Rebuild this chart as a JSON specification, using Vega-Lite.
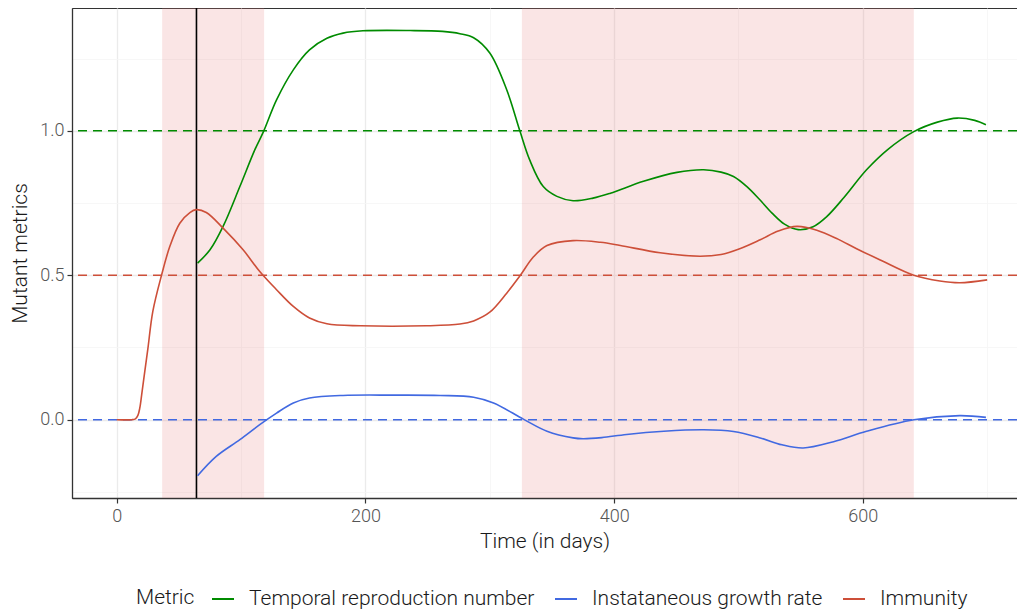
{
  "$schema": "https://vega.github.io/schema/vega-lite/v6.json",
  "width": 945,
  "height": 490,
  "autosize": {"type": "none"},
  "padding": {"left": 72, "top": 8, "right": 0, "bottom": 113},
  "config": {
    "font": "Roboto",
    "view": {"stroke": "#333333", "strokeWidth": 1},
    "axis": {
      "labelFont": "Roboto", "labelFontWeight": 300, "labelFontSize": 18, "labelColor": "#555555",
      "titleFont": "Roboto", "titleFontWeight": 300, "titleFontSize": 21, "titleColor": "#1a1a1a",
      "domainColor": "#333333", "domainWidth": 1.3, "tickSize": 5, "tickWidth": 1.2, "labelPadding": 3
    },
    "legend": {
      "orient": "none", "legendX": 64, "legendY": 579, "direction": "horizontal", "titleOrient": "left",
      "titleFont": "Roboto", "titleFontWeight": 300, "titleFontSize": 21, "titleColor": "#1a1a1a",
      "labelFont": "Roboto", "labelFontWeight": 300, "labelFontSize": 21, "labelColor": "#1a1a1a",
      "labelLimit": 0,
      "symbolType": "stroke", "symbolStrokeWidth": 2, "symbolSize": 484, "labelOffset": 14,
      "columnPadding": 16, "titlePadding": 16, "padding": 0, "symbolDash": []
    }
  },
  "datasets": {
    "shades": [{"day": 36.5, "day_end": 118.5}, {"day": 325.8, "day_end": 641}],
    "refs": [
      {"metric": "Temporal reproduction number", "value": 1.0},
      {"metric": "Instataneous growth rate", "value": 0.0},
      {"metric": "Immunity", "value": 0.5}
    ],
    "events": [{"day": 64.1}],
    "series": [
      {"metric": "Temporal reproduction number", "day": 65, "value": 0.542},
      {"metric": "Temporal reproduction number", "day": 75, "value": 0.588},
      {"metric": "Temporal reproduction number", "day": 85.5, "value": 0.669},
      {"metric": "Temporal reproduction number", "day": 99, "value": 0.807},
      {"metric": "Temporal reproduction number", "day": 111, "value": 0.934},
      {"metric": "Temporal reproduction number", "day": 118, "value": 0.997},
      {"metric": "Temporal reproduction number", "day": 128.5, "value": 1.107},
      {"metric": "Temporal reproduction number", "day": 142, "value": 1.211},
      {"metric": "Temporal reproduction number", "day": 155, "value": 1.28},
      {"metric": "Temporal reproduction number", "day": 169, "value": 1.32},
      {"metric": "Temporal reproduction number", "day": 182, "value": 1.338},
      {"metric": "Temporal reproduction number", "day": 198, "value": 1.346},
      {"metric": "Temporal reproduction number", "day": 236, "value": 1.347},
      {"metric": "Temporal reproduction number", "day": 262, "value": 1.344},
      {"metric": "Temporal reproduction number", "day": 276, "value": 1.336},
      {"metric": "Temporal reproduction number", "day": 287, "value": 1.322},
      {"metric": "Temporal reproduction number", "day": 300, "value": 1.269},
      {"metric": "Temporal reproduction number", "day": 313.6, "value": 1.142},
      {"metric": "Temporal reproduction number", "day": 324.3, "value": 0.998},
      {"metric": "Temporal reproduction number", "day": 332, "value": 0.9},
      {"metric": "Temporal reproduction number", "day": 343, "value": 0.807},
      {"metric": "Temporal reproduction number", "day": 354, "value": 0.773},
      {"metric": "Temporal reproduction number", "day": 367, "value": 0.758},
      {"metric": "Temporal reproduction number", "day": 383, "value": 0.767},
      {"metric": "Temporal reproduction number", "day": 397, "value": 0.784},
      {"metric": "Temporal reproduction number", "day": 423.6, "value": 0.825},
      {"metric": "Temporal reproduction number", "day": 450.5, "value": 0.856},
      {"metric": "Temporal reproduction number", "day": 472, "value": 0.865},
      {"metric": "Temporal reproduction number", "day": 486, "value": 0.857},
      {"metric": "Temporal reproduction number", "day": 496, "value": 0.842},
      {"metric": "Temporal reproduction number", "day": 507, "value": 0.806},
      {"metric": "Temporal reproduction number", "day": 517, "value": 0.762},
      {"metric": "Temporal reproduction number", "day": 527, "value": 0.715},
      {"metric": "Temporal reproduction number", "day": 537, "value": 0.677},
      {"metric": "Temporal reproduction number", "day": 548, "value": 0.658},
      {"metric": "Temporal reproduction number", "day": 560, "value": 0.668},
      {"metric": "Temporal reproduction number", "day": 571, "value": 0.703},
      {"metric": "Temporal reproduction number", "day": 585, "value": 0.77},
      {"metric": "Temporal reproduction number", "day": 603, "value": 0.865},
      {"metric": "Temporal reproduction number", "day": 620, "value": 0.935},
      {"metric": "Temporal reproduction number", "day": 641, "value": 0.997},
      {"metric": "Temporal reproduction number", "day": 660, "value": 1.03},
      {"metric": "Temporal reproduction number", "day": 676, "value": 1.044},
      {"metric": "Temporal reproduction number", "day": 690, "value": 1.036},
      {"metric": "Temporal reproduction number", "day": 699, "value": 1.021},

      {"metric": "Instataneous growth rate", "day": 65, "value": -0.194},
      {"metric": "Instataneous growth rate", "day": 80, "value": -0.127},
      {"metric": "Instataneous growth rate", "day": 99, "value": -0.069},
      {"metric": "Instataneous growth rate", "day": 115, "value": -0.017},
      {"metric": "Instataneous growth rate", "day": 128.5, "value": 0.023},
      {"metric": "Instataneous growth rate", "day": 142, "value": 0.058},
      {"metric": "Instataneous growth rate", "day": 155, "value": 0.075},
      {"metric": "Instataneous growth rate", "day": 182, "value": 0.084},
      {"metric": "Instataneous growth rate", "day": 222, "value": 0.085},
      {"metric": "Instataneous growth rate", "day": 260, "value": 0.084},
      {"metric": "Instataneous growth rate", "day": 287, "value": 0.078},
      {"metric": "Instataneous growth rate", "day": 303, "value": 0.058},
      {"metric": "Instataneous growth rate", "day": 327, "value": 0.002},
      {"metric": "Instataneous growth rate", "day": 346, "value": -0.04},
      {"metric": "Instataneous growth rate", "day": 367, "value": -0.063},
      {"metric": "Instataneous growth rate", "day": 375, "value": -0.066},
      {"metric": "Instataneous growth rate", "day": 390, "value": -0.062},
      {"metric": "Instataneous growth rate", "day": 410, "value": -0.051},
      {"metric": "Instataneous growth rate", "day": 440, "value": -0.04},
      {"metric": "Instataneous growth rate", "day": 472, "value": -0.035},
      {"metric": "Instataneous growth rate", "day": 496, "value": -0.041},
      {"metric": "Instataneous growth rate", "day": 517.5, "value": -0.063},
      {"metric": "Instataneous growth rate", "day": 535, "value": -0.087},
      {"metric": "Instataneous growth rate", "day": 552, "value": -0.098},
      {"metric": "Instataneous growth rate", "day": 576.5, "value": -0.076},
      {"metric": "Instataneous growth rate", "day": 603, "value": -0.04},
      {"metric": "Instataneous growth rate", "day": 641, "value": 0.0},
      {"metric": "Instataneous growth rate", "day": 678, "value": 0.014},
      {"metric": "Instataneous growth rate", "day": 699, "value": 0.008},

      {"metric": "Immunity", "day": 0, "value": 0},
      {"metric": "Immunity", "day": 12, "value": 0},
      {"metric": "Immunity", "day": 15, "value": 0.003},
      {"metric": "Immunity", "day": 17, "value": 0.015},
      {"metric": "Immunity", "day": 18.5, "value": 0.04},
      {"metric": "Immunity", "day": 20, "value": 0.085},
      {"metric": "Immunity", "day": 22, "value": 0.15},
      {"metric": "Immunity", "day": 25, "value": 0.245},
      {"metric": "Immunity", "day": 29, "value": 0.375},
      {"metric": "Immunity", "day": 36, "value": 0.5},
      {"metric": "Immunity", "day": 42.7, "value": 0.6},
      {"metric": "Immunity", "day": 50.7, "value": 0.68},
      {"metric": "Immunity", "day": 58.8, "value": 0.717},
      {"metric": "Immunity", "day": 64, "value": 0.727},
      {"metric": "Immunity", "day": 72, "value": 0.717},
      {"metric": "Immunity", "day": 85.5, "value": 0.663},
      {"metric": "Immunity", "day": 101.6, "value": 0.588},
      {"metric": "Immunity", "day": 115, "value": 0.513},
      {"metric": "Immunity", "day": 128.5, "value": 0.45},
      {"metric": "Immunity", "day": 142, "value": 0.392},
      {"metric": "Immunity", "day": 155, "value": 0.352},
      {"metric": "Immunity", "day": 169, "value": 0.332},
      {"metric": "Immunity", "day": 196, "value": 0.325},
      {"metric": "Immunity", "day": 249, "value": 0.325},
      {"metric": "Immunity", "day": 276, "value": 0.331},
      {"metric": "Immunity", "day": 287, "value": 0.342},
      {"metric": "Immunity", "day": 300, "value": 0.372},
      {"metric": "Immunity", "day": 313.6, "value": 0.438},
      {"metric": "Immunity", "day": 324.3, "value": 0.498},
      {"metric": "Immunity", "day": 335, "value": 0.563},
      {"metric": "Immunity", "day": 346, "value": 0.603},
      {"metric": "Immunity", "day": 367, "value": 0.62},
      {"metric": "Immunity", "day": 389, "value": 0.614},
      {"metric": "Immunity", "day": 405, "value": 0.603},
      {"metric": "Immunity", "day": 437, "value": 0.578},
      {"metric": "Immunity", "day": 469, "value": 0.566},
      {"metric": "Immunity", "day": 486, "value": 0.572},
      {"metric": "Immunity", "day": 501, "value": 0.592},
      {"metric": "Immunity", "day": 517.5, "value": 0.623},
      {"metric": "Immunity", "day": 532, "value": 0.653},
      {"metric": "Immunity", "day": 547, "value": 0.669},
      {"metric": "Immunity", "day": 563, "value": 0.656},
      {"metric": "Immunity", "day": 580, "value": 0.625},
      {"metric": "Immunity", "day": 595, "value": 0.592},
      {"metric": "Immunity", "day": 614, "value": 0.553},
      {"metric": "Immunity", "day": 641, "value": 0.5},
      {"metric": "Immunity", "day": 662, "value": 0.48},
      {"metric": "Immunity", "day": 678, "value": 0.474},
      {"metric": "Immunity", "day": 700, "value": 0.484}
    ]
  },
  "layer": [
    {
      "data": {"name": "shades"},
      "mark": {"type": "rect", "fill": "#e67d7d", "opacity": 0.2},
      "encoding": {
        "x": {
          "field": "day", "type": "quantitative",
          "scale": {"domain": [-36, 724], "nice": false, "zero": false},
          "axis": {
            "title": "Time (in days)",
            "values": [0, 100, 200, 300, 400, 500, 600, 700],
            "labelExpr": "datum.value % 200 === 0 ? datum.label : ''",
            "gridColor": {"condition": {"test": "datum.value % 200 === 0", "value": "#ebebeb"}, "value": "#f5f5f5"},
            "gridWidth": {"condition": {"test": "datum.value % 200 === 0", "value": 1.3}, "value": 0.8},
            "tickColor": {"condition": {"test": "datum.value % 200 === 0", "value": "#333333"}, "value": "transparent"},
            "labelPadding": 4,
            "titlePadding": 5
          }
        },
        "x2": {"field": "day_end"}
      }
    },
    {
      "data": {"name": "refs"},
      "mark": {"type": "rule", "strokeDash": [9, 6], "strokeWidth": 1.5},
      "encoding": {
        "y": {
          "field": "value", "type": "quantitative",
          "scale": {"domain": [-0.271, 1.425], "nice": false, "zero": false},
          "axis": {
            "title": "Mutant metrics",
            "values": [-0.25, 0, 0.25, 0.5, 0.75, 1, 1.25],
            "format": ".1f",
            "labelExpr": "abs(datum.value*2 - round(datum.value*2)) < 0.001 ? datum.label : ''",
            "gridColor": {"condition": {"test": "abs(datum.value*2 - round(datum.value*2)) < 0.001", "value": "#ebebeb"}, "value": "#f5f5f5"},
            "gridWidth": {"condition": {"test": "abs(datum.value*2 - round(datum.value*2)) < 0.001", "value": 1.3}, "value": 0.8},
            "tickColor": {"condition": {"test": "abs(datum.value*2 - round(datum.value*2)) < 0.001", "value": "#333333"}, "value": "transparent"},
            "titlePadding": 9
          }
        },
        "color": {
          "field": "metric", "type": "nominal",
          "scale": {
            "domain": ["Temporal reproduction number", "Instataneous growth rate", "Immunity"],
            "range": ["#008B00", "#4169E1", "#CD4F39"]
          },
          "legend": {"title": "Metric"}
        }
      }
    },
    {
      "data": {"name": "events"},
      "mark": {"type": "rule", "color": "#000000", "strokeWidth": 1.6},
      "encoding": {
        "x": {"field": "day", "type": "quantitative"}
      }
    },
    {
      "data": {"name": "series"},
      "mark": {"type": "line", "interpolate": "catmull-rom", "strokeWidth": 1.6},
      "encoding": {
        "x": {"field": "day", "type": "quantitative"},
        "y": {"field": "value", "type": "quantitative"},
        "color": {"field": "metric", "type": "nominal"}
      }
    }
  ]
}
